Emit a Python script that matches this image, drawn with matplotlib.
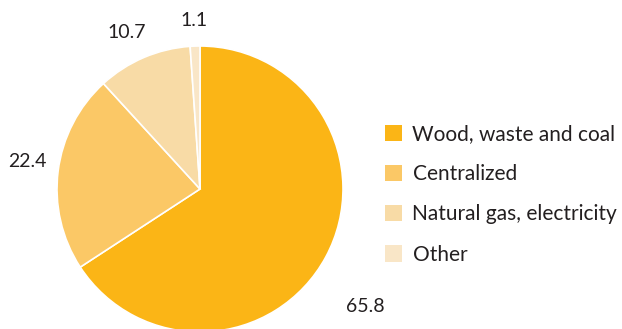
import numpy as np
import matplotlib.pyplot as plt

categories = ['Wood, waste and coal', 'Centralized', 'Natural gas, electricity', 'Other']
shares = [65.8, 22.4, 10.7, 1.1]
colors = ['#fbb516', '#fbc866', '#f8dba6', '#f9e6c7']

# label placement per slice: radial distance (in radii) and angle nudge (deg)
label_dist = [1.42, 1.22, 1.21, 1.18]
label_nudge = [-7, -2, 2, 0]

plt.rcParams['font.family'] = ['Lato', 'DejaVu Sans']
text_color = '#231f20'

fig = plt.figure(figsize=(6.22, 3.29), dpi=100)
ax = fig.add_axes([0, 0, 1, 1])

cx, cy, r = 200, 140, 143
wedges, _ = ax.pie(shares, colors=colors, startangle=90, counterclock=False,
                   center=(cx, cy), radius=r, frame=True,
                   wedgeprops=dict(edgecolor='white', linewidth=1.2))
ax.set_xlim(0, 622)
ax.set_ylim(0, 329)
ax.set_aspect('equal')
ax.axis('off')

for w, val, d, nudge in zip(wedges, shares, label_dist, label_nudge):
    ang = np.deg2rad((w.theta1 + w.theta2) / 2 + nudge)
    ax.text(cx + r * d * np.cos(ang), cy + r * d * np.sin(ang), f'{val:.1f}',
            ha='center', va='center', fontsize=14, color=text_color)

leg = ax.legend(wedges, categories, loc='upper left',
                bbox_to_anchor=(385 / 622, 1 - 124 / 329),
                frameon=False, fontsize=15, handlelength=0.82, handleheight=0.82,
                handletextpad=0.5, labelspacing=0.97, borderpad=0,
                borderaxespad=0)
for t in leg.get_texts():
    t.set_color(text_color)
for h in leg.legend_handles:
    h.set_edgecolor('none')

fig.savefig('out.png', dpi=100)
